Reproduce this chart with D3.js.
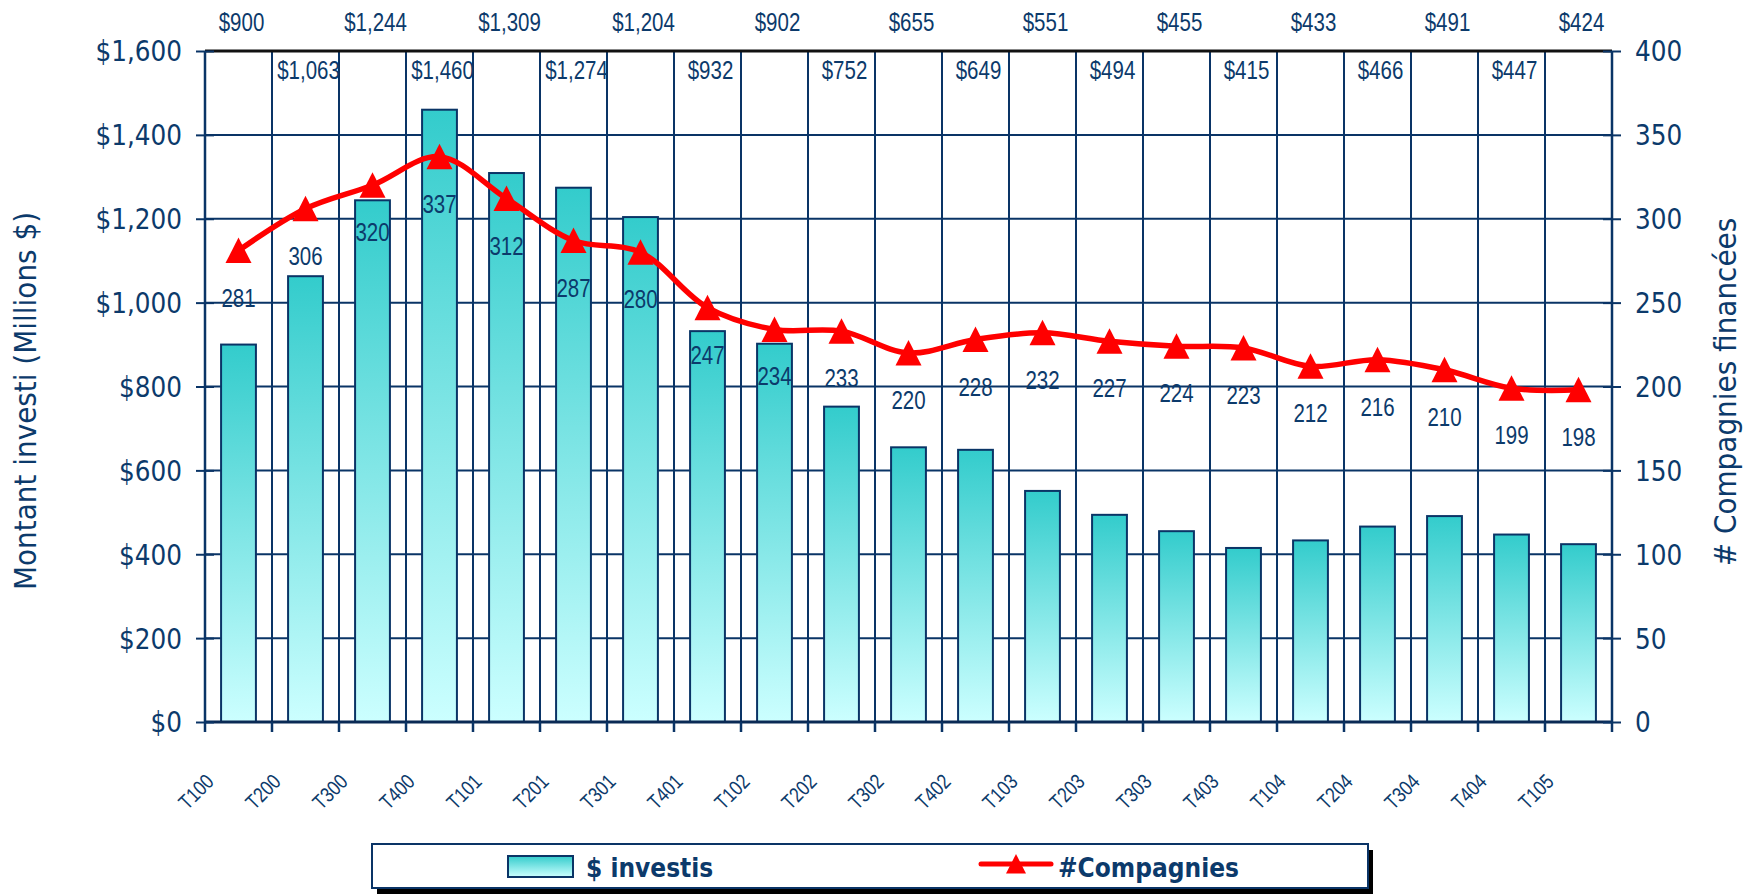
<!DOCTYPE html>
<html>

<head>
    <meta charset="utf-8">
    <style>
        body {
            margin: 0;
            background: #fff;
        }

        svg {
            display: block;
            font-family: "DejaVu Sans Condensed", "DejaVu Sans", sans-serif;
        }

        .axis .domain {
            display: none;
        }

        .axis .tick line {
            stroke: #0a3466;
            stroke-width: 2;
        }

        .axis .tick text {
            font-family: "DejaVu Sans Condensed", "DejaVu Sans", sans-serif;
            font-size: 27.5px;
            fill: #0c3a6b;
        }

        .grid line {
            stroke: #0a3466;
            stroke-width: 2;
        }

        /* arial-narrow look: liberation sans squeezed sideways */
        .value-label {
            font-family: "Liberation Sans", Arial, sans-serif;
            font-size: 25px;
            fill: #0c3a6b;
        }

        .cat-label {
            font-family: "Liberation Sans", Arial, sans-serif;
            font-size: 21px;
            fill: #0c3a6b;
        }

        .axis-title {
            font-size: 31px;
            fill: #0c3a6b;
        }

        .legend-text {
            font-size: 26px;
            font-weight: bold;
            fill: #0c3a6b;
        }
    </style>
</head>

<body>
    <svg width="1753" height="896"></svg>
</body>

<script src="https://d3js.org/d3.v7.min.js"></script>

<script>
    // data
    let categories = ["T100", "T200", "T300", "T400", "T101", "T201", "T301", "T401", "T102", "T202", "T302",
        "T402", "T103", "T203", "T303", "T403", "T104", "T204", "T304", "T404", "T105"]

    let invested = [900, 1063, 1244, 1460, 1309, 1274, 1204, 932, 902, 752, 655,
        649, 551, 494, 455, 415, 433, 466, 491, 447, 424]

    let companies = [281, 306, 320, 337, 312, 287, 280, 247, 234, 233, 220,
        228, 232, 227, 224, 223, 212, 216, 210, 199, 198]

    let leftTicks = [0, 200, 400, 600, 800, 1000, 1200, 1400, 1600]
    let rightTicks = [0, 50, 100, 150, 200, 250, 300, 350, 400]

    let legendLabels = ["$ investis", "#Compagnies"]

    let width = 1753;
    let height = 896;
    let margin = { top: 51, right: 141, bottom: 174, left: 205 };

    let navy = "#0a3466"
    let red = "#ff0000"
    let narrow = 0.82 // horizontal squeeze for the narrow labels

    let svg = d3.select("svg")

    let data = categories.map((c, i) => ({ cat: c, invested: invested[i], companies: companies[i] }))

    let x = d3.scaleBand()
        .domain(categories)
        .range([margin.left, width - margin.right])
        .padding(0)

    let barWidth = x.bandwidth() * 0.52
    let cx = c => x(c) + x.bandwidth() / 2

    let yLeft = d3.scaleLinear()
        .domain([0, 1600])
        .range([height - margin.bottom, margin.top])

    let yRight = d3.scaleLinear()
        .domain([0, 400])
        .range([height - margin.bottom, margin.top])

    // gradient for the bars (top darker teal, bottom pale cyan)
    let defs = svg.append("defs")
    let grad = defs.append("linearGradient")
        .attr("id", "barGrad")
        .attr("x1", 0).attr("y1", 0)
        .attr("x2", 0).attr("y2", 1)
    grad.append("stop").attr("offset", "0%").attr("stop-color", "#33cccc")
    grad.append("stop").attr("offset", "100%").attr("stop-color", "#ccffff")

    // horizontal grid
    svg.append("g")
        .attr("class", "grid")
        .selectAll("line")
        .data(leftTicks)
        .join("line")
        .attr("x1", margin.left)
        .attr("x2", width - margin.right)
        .attr("y1", d => yLeft(d))
        .attr("y2", d => yLeft(d))

    // vertical grid at the category boundaries
    let boundaries = categories.map(c => x(c)).concat([width - margin.right])
    svg.append("g")
        .attr("class", "grid")
        .selectAll("line")
        .data(boundaries)
        .join("line")
        .attr("x1", d => d)
        .attr("x2", d => d)
        .attr("y1", margin.top)
        .attr("y2", height - margin.bottom)

    // bars
    svg.append("g")
        .selectAll("rect")
        .data(data)
        .join("rect")
        .attr("x", d => x(d.cat) + (x.bandwidth() - barWidth) / 2)
        .attr("width", barWidth)
        .attr("y", d => yLeft(d.invested))
        .attr("height", d => yLeft(0) - yLeft(d.invested))
        .attr("fill", "url(#barGrad)")
        .attr("stroke", navy)
        .attr("stroke-width", 2)

    // top frame line and baseline
    svg.append("line")
        .attr("x1", margin.left).attr("x2", width - margin.right)
        .attr("y1", yLeft(1600)).attr("y2", yLeft(1600))
        .style("stroke", "#111")
        .style("stroke-width", 3)

    svg.append("line")
        .attr("x1", margin.left).attr("x2", width - margin.right)
        .attr("y1", yLeft(0)).attr("y2", yLeft(0))
        .style("stroke", "#0a2a55")
        .style("stroke-width", 3)

    // left axis
    svg.append("g")
        .attr("class", "y axis")
        .attr("transform", `translate(${margin.left},0)`)
        .call(d3.axisLeft(yLeft)
            .tickValues(leftTicks)
            .tickSize(9)
            .tickPadding(14)
            .tickFormat(d => "$" + d3.format(",")(d)))
        .call(g => g.attr("font-family", null).attr("font-size", null))
        .call(g => g.selectAll(".tick line").attr("x2", -9).attr("x1", 9))
        .call(g => g.selectAll(".tick text").attr("dy", "0.36em"))

    svg.append("line")
        .attr("x1", margin.left).attr("x2", margin.left)
        .attr("y1", margin.top).attr("y2", height - margin.bottom)
        .style("stroke", navy).style("stroke-width", 2.5)

    // right axis
    svg.append("g")
        .attr("class", "y2 axis")
        .attr("transform", `translate(${width - margin.right},0)`)
        .call(d3.axisRight(yRight)
            .tickValues(rightTicks)
            .tickSize(9)
            .tickPadding(14))
        .call(g => g.attr("font-family", null).attr("font-size", null))
        .call(g => g.selectAll(".tick line").attr("x1", -9).attr("x2", 9))
        .call(g => g.selectAll(".tick text").attr("dy", "0.36em"))

    svg.append("line")
        .attr("x1", width - margin.right).attr("x2", width - margin.right)
        .attr("y1", margin.top).attr("y2", height - margin.bottom)
        .style("stroke", navy).style("stroke-width", 2.5)

    // bottom ticks sit on the boundaries, labels rotated under each category
    let xTicks = svg.append("g")
        .attr("class", "x axis")
        .attr("transform", `translate(0,${height - margin.bottom})`)

    xTicks.selectAll("line")
        .data(boundaries)
        .join("line")
        .attr("x1", d => d).attr("x2", d => d)
        .attr("y1", 0).attr("y2", 10)
        .style("stroke", navy).style("stroke-width", 2.5)

    xTicks.selectAll("text")
        .data(categories)
        .join("text")
        .attr("class", "cat-label")
        .attr("text-anchor", "end")
        .attr("transform", d => `translate(${cx(d) - 23.5},61) rotate(-45) scale(${narrow},1)`)
        .text(d => d)

    // companies line (smoothed)
    let line = d3.line()
        .x(d => cx(d.cat))
        .y(d => yRight(d.companies))
        .curve(d3.curveCatmullRom.alpha(0.5))

    svg.append("path")
        .datum(data)
        .attr("fill", "none")
        .attr("stroke", red)
        .attr("stroke-width", 5.5)
        .attr("stroke-linejoin", "round")
        .attr("d", line)

    let tri = "M0,-13L13,12.5L-13,12.5Z"

    svg.append("g")
        .selectAll("path")
        .data(data)
        .join("path")
        .attr("d", tri)
        .attr("fill", red)
        .attr("transform", d => `translate(${cx(d.cat)},${yRight(d.companies)})`)

    // labels under the markers
    svg.append("g")
        .selectAll("text")
        .data(data)
        .join("text")
        .attr("class", "value-label")
        .attr("text-anchor", "middle")
        .attr("transform", d => `translate(${cx(d.cat)},${yRight(d.companies) + 56}) scale(${narrow},1.05)`)
        .text(d => d.companies)

    // bar labels, staggered on two rows above the plot
    svg.append("g")
        .selectAll("text")
        .data(data)
        .join("text")
        .attr("class", "value-label")
        .attr("text-anchor", "middle")
        .attr("transform", (d, i) => `translate(${cx(d.cat) + 3},${i % 2 == 0 ? 31 : 79}) scale(${narrow},1.05)`)
        .text(d => "$" + d3.format(",")(d.invested))

    // axis titles
    svg.append("text")
        .attr("class", "axis-title")
        .attr("text-anchor", "middle")
        .attr("transform", "translate(36,401) rotate(-90)")
        .text("Montant investi (Millions $)")

    svg.append("text")
        .attr("class", "axis-title")
        .attr("text-anchor", "middle")
        .attr("transform", "translate(1736,392) rotate(-90)")
        .text("# Compagnies financées")

    // legend with its drop shadow
    let legend = svg.append("g")

    legend.append("rect")
        .attr("x", 377).attr("y", 850)
        .attr("width", 996).attr("height", 44)
        .attr("fill", "#000")

    legend.append("rect")
        .attr("x", 372).attr("y", 844)
        .attr("width", 996).attr("height", 44)
        .attr("fill", "#fff")
        .attr("stroke", navy)
        .attr("stroke-width", 2)

    legend.append("rect")
        .attr("x", 508).attr("y", 856)
        .attr("width", 65).attr("height", 21)
        .attr("fill", "url(#barGrad)")
        .attr("stroke", navy)
        .attr("stroke-width", 2)

    legend.append("text")
        .attr("class", "legend-text")
        .attr("x", 586).attr("y", 877)
        .text(legendLabels[0])

    legend.append("line")
        .attr("x1", 981).attr("x2", 1051)
        .attr("y1", 864).attr("y2", 864)
        .attr("stroke", red)
        .attr("stroke-width", 5)
        .attr("stroke-linecap", "round")

    legend.append("path")
        .attr("d", "M0,-10L10,9.5L-10,9.5Z")
        .attr("fill", red)
        .attr("transform", "translate(1016,864)")

    legend.append("text")
        .attr("class", "legend-text")
        .attr("x", 1058).attr("y", 877)
        .text(legendLabels[1])
</script>

</html>
